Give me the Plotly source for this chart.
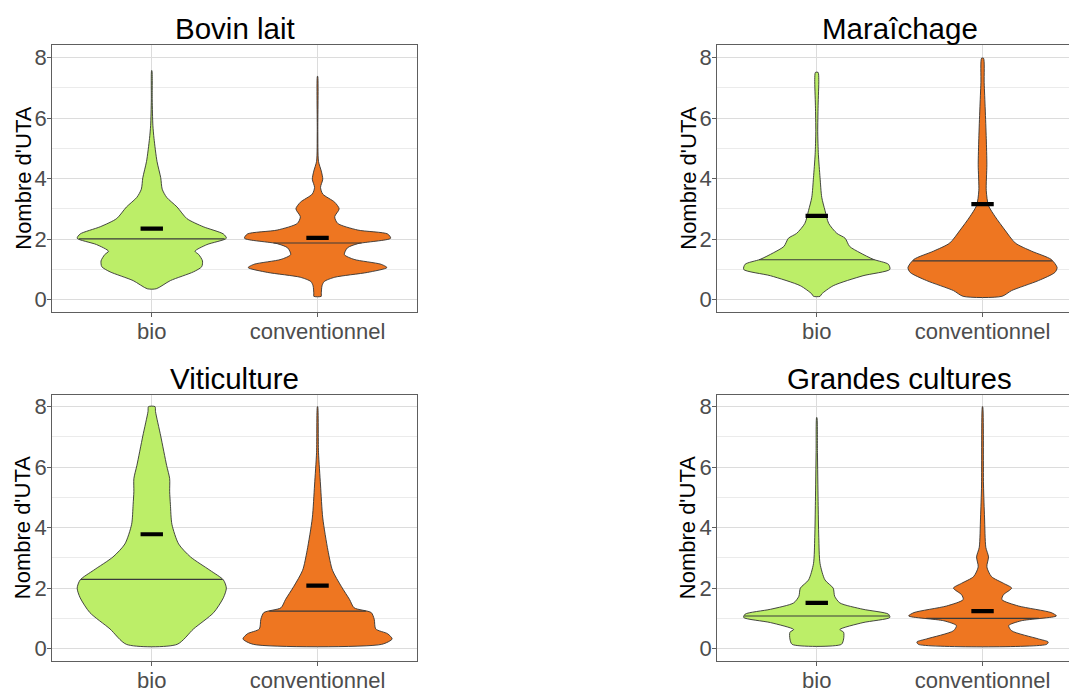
import numpy as np
import plotly.graph_objects as go

# ---- data -----------------------------------------------------------------
groups = ["bio", "conventionnel"]
panel_titles = ["Bovin lait", "Maraîchage", "Viticulture", "Grandes cultures"]
y_ticks = [0, 2, 4, 6, 8]
y_label = "Nombre d'UTA"

# density profiles: UTA level and relative half-width (1 = widest violin)
bovin_bio_y = [0.36, 0.63, 0.92, 1.09, 1.28, 1.49, 1.6, 1.82, 2.03, 2.17, 2.41, 2.68, 3.06, 3.38, 3.65, 4.03, 4.57, 5.33, 5.76, 6.6, 7.57]
bovin_bio_w = [0.06, 0.25, 0.56, 0.67, 0.68, 0.63, 0.58, 0.74, 1.0, 0.96, 0.69, 0.47, 0.34, 0.20, 0.14, 0.12, 0.07, 0.03, 0.015, 0.006, 0.002]
bovin_conv_y = [0.11, 0.19, 0.46, 0.6, 0.74, 0.9, 1.06, 1.17, 1.33, 1.49, 1.71, 1.85, 2.03, 2.17, 2.3, 2.52, 2.74, 3.0, 3.22, 3.49, 3.71, 3.98, 4.25, 4.57, 5.55, 7.38]
bovin_conv_w = [0.05, 0.05, 0.06, 0.09, 0.23, 0.67, 0.93, 0.85, 0.49, 0.36, 0.40, 0.54, 0.98, 0.94, 0.54, 0.27, 0.23, 0.29, 0.23, 0.07, 0.04, 0.07, 0.05, 0.013, 0.004, 0.002]

mara_bio_y = [0.11, 0.19, 0.46, 0.79, 1.0, 1.17, 1.33, 1.55, 1.76, 2.03, 2.19, 2.52, 2.95, 3.38, 4.03, 4.79, 5.55, 6.41, 7.28, 7.51]
mara_bio_w = [0.044, 0.067, 0.22, 0.62, 0.98, 0.96, 0.76, 0.58, 0.44, 0.38, 0.27, 0.16, 0.11, 0.067, 0.044, 0.022, 0.013, 0.018, 0.027, 0.018]
mara_conv_y = [0.11, 0.3, 0.63, 0.9, 1.06, 1.33, 1.6, 1.87, 2.3, 2.74, 3.11, 3.6, 4.46, 5.33, 6.3, 7.17, 7.98]
mara_conv_w = [0.26, 0.39, 0.75, 0.97, 1.0, 0.92, 0.66, 0.44, 0.30, 0.17, 0.08, 0.05, 0.058, 0.05, 0.036, 0.022, 0.013]

viti_bio_y = [0.14, 0.65, 1.19, 1.68, 2.0, 2.27, 2.59, 3.03, 3.46, 4.11, 4.76, 5.19, 5.62, 6.05, 7.03, 7.84, 8.0]
viti_bio_w = [0.34, 0.56, 0.83, 0.96, 1.0, 0.96, 0.78, 0.52, 0.36, 0.27, 0.25, 0.24, 0.24, 0.20, 0.12, 0.05, 0.044]
viti_conv_y = [0.14, 0.32, 0.49, 0.65, 0.97, 1.19, 1.35, 1.62, 2.05, 2.59, 3.24, 4.32, 5.41, 6.49, 8.0]
viti_conv_w = [0.86, 1.0, 0.94, 0.78, 0.76, 0.72, 0.49, 0.43, 0.32, 0.20, 0.14, 0.07, 0.04, 0.013, 0.002]

gc_bio_y = [0.14, 0.32, 0.54, 0.63, 0.86, 1.03, 1.14, 1.3, 1.51, 1.73, 2.0, 2.27, 2.81, 3.68, 4.86, 6.49, 7.64]
gc_bio_w = [0.33, 0.36, 0.36, 0.31, 0.62, 0.98, 0.96, 0.62, 0.31, 0.24, 0.22, 0.11, 0.044, 0.027, 0.018, 0.009, 0.002]
gc_conv_y = [0.14, 0.22, 0.32, 0.59, 0.76, 0.92, 1.08, 1.19, 1.41, 1.62, 1.78, 2.0, 2.16, 2.38, 2.7, 3.03, 3.35, 4.32, 5.41, 8.0]
gc_conv_w = [0.86, 0.88, 0.75, 0.39, 0.35, 0.52, 0.99, 0.92, 0.48, 0.26, 0.28, 0.39, 0.28, 0.12, 0.058, 0.08, 0.044, 0.027, 0.013, 0.002]

# medians and means per panel: [bio, conventionnel]
medians = [[2.01, 1.87], [1.32, 1.28], [2.29, 1.24], [1.08, 1.00]]
means = [[2.35, 2.04], [2.77, 3.16], [3.78, 2.08], [1.51, 1.24]]

profiles = [
    [(bovin_bio_y, bovin_bio_w), (bovin_conv_y, bovin_conv_w)],
    [(mara_bio_y, mara_bio_w), (mara_conv_y, mara_conv_w)],
    [(viti_bio_y, viti_bio_w), (viti_conv_y, viti_conv_w)],
    [(gc_bio_y, gc_bio_w), (gc_conv_y, gc_conv_w)],
]

# ---- styling / layout -------------------------------------------------------
W, H = 1069, 693
fill_colors = ["#BCEE68", "#EE7621"]
half_width = 0.45
px_per_unit = 364.7 / 2.2
FONT = "Liberation Sans, Arial, sans-serif"

# plot-area pixel boxes: (left, right edge drawn, full right, top, bottom)
boxes = [
    (52.3, 417.0, 417.0, 45.0, 316.7),
    (717.3, 1069.0, 1082.0, 45.0, 316.7),
    (52.3, 417.0, 417.0, 401.7, 672.3),
    (717.3, 1069.0, 1082.0, 401.7, 672.3),
]
y_ranges = [[-0.40, 8.41], [-0.40, 8.41], [-0.40, 8.38], [-0.40, 8.38]]

fig = go.Figure()
annotations = []

for i, (left, right, full_right, top, bottom) in enumerate(boxes):
    ax = "" if i == 0 else str(i + 1)
    xref, yref = "x" + ax, "y" + ax
    clipped = right < full_right

    for g in range(2):
        yy, ww = profiles[i][g]
        yy = np.asarray(yy, float)
        hw = np.asarray(ww, float) * half_width
        cx = g + 1
        xs = np.concatenate([cx + hw, (cx - hw)[::-1], [cx + hw[0]]])
        ys = np.concatenate([yy, yy[::-1], [yy[0]]])
        fig.add_trace(go.Scatter(
            x=xs, y=ys, xaxis=xref, yaxis=yref, mode="lines",
            fill="toself", fillcolor=fill_colors[g],
            line=dict(color="#333333", width=0.9, shape="spline", smoothing=0.7),
            hoverinfo="skip", showlegend=False))

        med = medians[i][g]
        mhw = np.interp(med, yy, hw)
        fig.add_trace(go.Scatter(
            x=[cx - mhw, cx + mhw], y=[med, med], xaxis=xref, yaxis=yref,
            mode="lines", line=dict(color="#3a3a3a", width=1.1),
            hoverinfo="skip", showlegend=False))

        fig.add_trace(go.Scatter(
            x=[cx], y=[means[i][g]], xaxis=xref, yaxis=yref, mode="markers",
            marker=dict(symbol="line-ew", size=16,
                        line=dict(color="black", width=4.2)),
            hoverinfo="skip", showlegend=False))

    x_hi = 0.4 + (right - left) / px_per_unit
    axis_common = dict(
        showline=True, linecolor="#5E5E5E", linewidth=1.2,
        ticks="outside", ticklen=4, tickwidth=1.1, tickcolor="#5E5E5E",
        ticklabelstandoff=-4,
        tickfont=dict(family=FONT, size=22, color="#4D4D4D"),
        showgrid=True, gridcolor="#DCDCDC", gridwidth=1.3, zeroline=False,
    )
    fig.layout["xaxis" + ax] = dict(
        axis_common, domain=[left / W, right / W], range=[0.4, x_hi],
        tickvals=[1, 2], ticktext=groups, anchor=yref, mirror=True)
    fig.layout["yaxis" + ax] = dict(
        axis_common, domain=[1 - bottom / H, 1 - top / H], range=y_ranges[i],
        tickvals=y_ticks, anchor=xref, mirror=not clipped,
        minor=dict(dtick=1, showgrid=True, gridcolor="#EBEBEB",
                   gridwidth=1, ticks=""))

    title_y = 28.5 if i < 2 else 384.5
    annotations.append(dict(
        text=panel_titles[i], x=(left + full_right) / 2 / W, y=1 - title_y / H,
        xref="paper", yref="paper", xanchor="center", yanchor="middle",
        showarrow=False, font=dict(family=FONT, size=29.5, color="black")))
    annotations.append(dict(
        text=y_label, x=(left - 29) / W, y=1 - (top + bottom) / 2 / H,
        xref="paper", yref="paper", xanchor="center", yanchor="middle",
        textangle=-90, showarrow=False,
        font=dict(family=FONT, size=22, color="black")))

fig.update_layout(
    width=W, height=H, margin=dict(l=0, r=0, t=0, b=0),
    paper_bgcolor="white", plot_bgcolor="white",
    annotations=annotations, showlegend=False)

fig.write_html("out.html", config=dict(displayModeBar=False))
